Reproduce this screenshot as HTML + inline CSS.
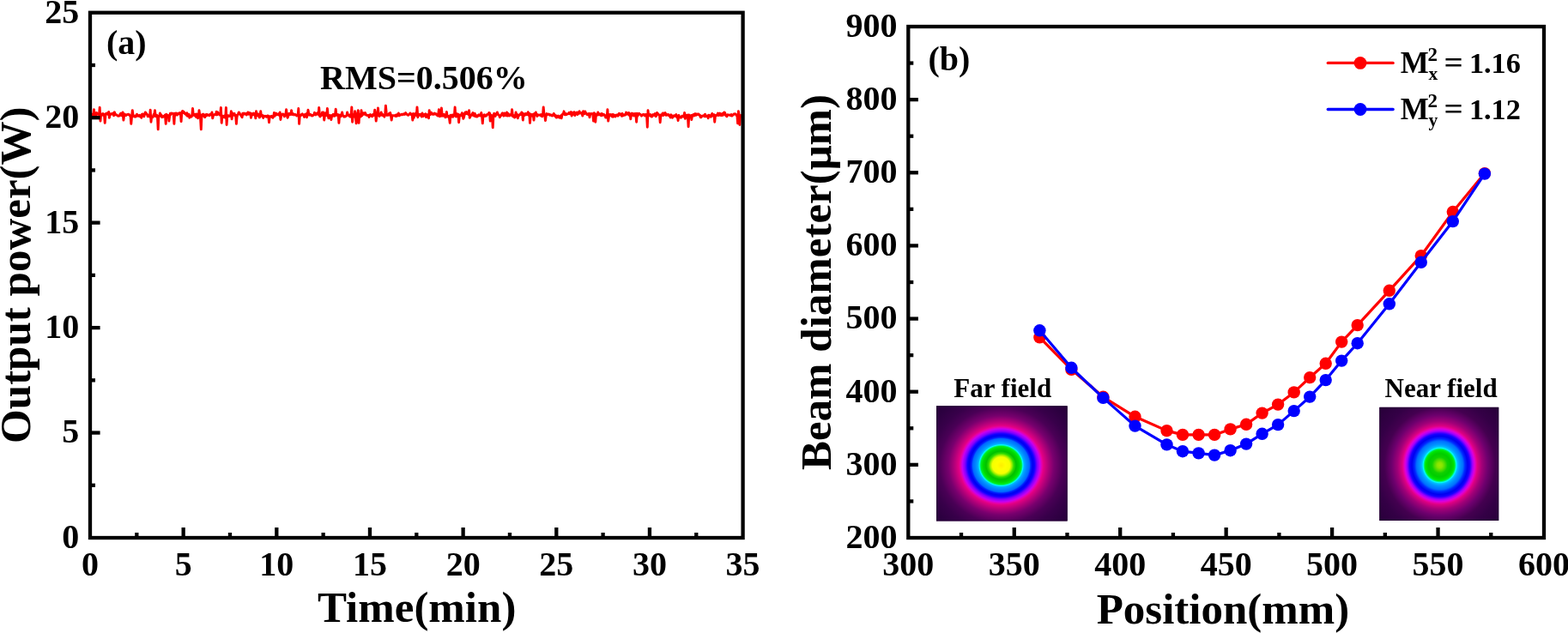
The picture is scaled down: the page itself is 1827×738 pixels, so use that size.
<!DOCTYPE html>
<html lang="en">
<head>
<meta charset="utf-8">
<title>Output power stability and beam quality</title>
<style>
html,body{margin:0;padding:0;background:#fff;}
body{width:1827px;height:738px;overflow:hidden;}
svg{display:block;}
text{font-family:'Liberation Serif',serif;font-weight:bold;fill:#000;}
.tk{font-size:40px;}
.ax{font-size:51px;}
.lb{font-size:40px;}
.lg{font-size:35px;}
.im{font-size:31px;}
.frame{fill:none;stroke:#000;stroke-width:4.3;}
.tick{stroke:#000;stroke-width:4.3;fill:none;}
</style>
</head>
<body>
<svg width="1827" height="738" viewBox="0 0 1827 738">
<defs>
<radialGradient id="gfar" cx="0.5" cy="0.5" r="0.5">
<stop offset="0.0000" stop-color="#ffee00"/>
<stop offset="0.0455" stop-color="#ffff00"/>
<stop offset="0.0936" stop-color="#f4ff00"/>
<stop offset="0.1136" stop-color="#a0f000"/>
<stop offset="0.1336" stop-color="#30dc00"/>
<stop offset="0.1591" stop-color="#00c000"/>
<stop offset="0.1909" stop-color="#00d800"/>
<stop offset="0.2145" stop-color="#00f020"/>
<stop offset="0.2236" stop-color="#00f0a0"/>
<stop offset="0.2309" stop-color="#00ffff"/>
<stop offset="0.2409" stop-color="#00b4ff"/>
<stop offset="0.2636" stop-color="#0090ff"/>
<stop offset="0.3000" stop-color="#0068ff"/>
<stop offset="0.3145" stop-color="#0020ff"/>
<stop offset="0.3345" stop-color="#0000f0"/>
<stop offset="0.3545" stop-color="#1000ff"/>
<stop offset="0.3836" stop-color="#8200ff"/>
<stop offset="0.4118" stop-color="#c800f0"/>
<stop offset="0.4318" stop-color="#e600aa"/>
<stop offset="0.4491" stop-color="#e10082"/>
<stop offset="0.5045" stop-color="#aa0078"/>
<stop offset="0.5591" stop-color="#78006e"/>
<stop offset="0.6545" stop-color="#4a0056"/>
<stop offset="0.7455" stop-color="#38004a"/>
<stop offset="0.8636" stop-color="#2c0040"/>
<stop offset="1.0000" stop-color="#260036"/>
</radialGradient>
<radialGradient id="gnear" cx="0.5" cy="0.5" r="0.5">
<stop offset="0.0000" stop-color="#98e800"/>
<stop offset="0.0273" stop-color="#88e400"/>
<stop offset="0.0545" stop-color="#50dc00"/>
<stop offset="0.0818" stop-color="#10d000"/>
<stop offset="0.1182" stop-color="#00cc00"/>
<stop offset="0.1455" stop-color="#00e000"/>
<stop offset="0.1591" stop-color="#00f020"/>
<stop offset="0.1682" stop-color="#00f0a0"/>
<stop offset="0.1764" stop-color="#00ffff"/>
<stop offset="0.1864" stop-color="#00c0ff"/>
<stop offset="0.2091" stop-color="#0098ff"/>
<stop offset="0.2455" stop-color="#0070ff"/>
<stop offset="0.2682" stop-color="#0028ff"/>
<stop offset="0.2955" stop-color="#0000f0"/>
<stop offset="0.3182" stop-color="#1800ff"/>
<stop offset="0.3473" stop-color="#a000ff"/>
<stop offset="0.3682" stop-color="#dc00dc"/>
<stop offset="0.3864" stop-color="#e600a0"/>
<stop offset="0.3991" stop-color="#dc0082"/>
<stop offset="0.4482" stop-color="#a00078"/>
<stop offset="0.5082" stop-color="#6e006e"/>
<stop offset="0.5873" stop-color="#440050"/>
<stop offset="0.6818" stop-color="#340046"/>
<stop offset="0.8182" stop-color="#2a003c"/>
<stop offset="1.0000" stop-color="#260036"/>
</radialGradient>
<clipPath id="cfar"><rect x="1091" y="473.3" width="152.7" height="134.2"/></clipPath>
<clipPath id="cnear"><rect x="1607.3" y="474.8" width="139" height="132.3"/></clipPath>
</defs>
<rect x="0" y="0" width="1827" height="738" fill="#fff"/>

<g id="panel-a">
<path d="M106.5,134.3 L107.2,133.4 L108.0,133.1 L108.7,134.3 L109.5,127.6 L110.2,134.6 L111.0,134.5 L111.7,136.2 L112.5,131.5 L113.2,132.4 L114.0,133.1 L114.7,132.8 L115.5,134.0 L116.2,125.2 L117.0,141.1 L117.7,132.7 L118.5,133.2 L119.2,133.9 L119.9,132.6 L120.7,134.5 L121.4,133.3 L122.2,143.3 L122.9,134.7 L123.7,132.3 L124.4,131.9 L125.2,133.0 L125.9,133.3 L126.7,130.4 L127.4,137.3 L128.2,132.6 L128.9,133.5 L129.7,132.7 L130.4,132.9 L131.2,132.1 L131.9,133.6 L132.6,134.7 L133.4,130.8 L134.1,132.8 L134.9,133.9 L135.6,133.8 L136.4,134.2 L137.1,135.1 L137.9,135.2 L138.6,135.1 L139.4,134.8 L140.1,132.8 L140.9,132.1 L141.6,134.7 L142.4,134.7 L143.1,130.9 L143.9,140.0 L144.6,134.9 L145.4,133.1 L146.1,134.0 L146.8,134.5 L147.6,133.9 L148.3,133.5 L149.1,133.3 L149.8,133.3 L150.6,133.6 L151.3,134.9 L152.1,135.6 L152.8,144.4 L153.6,135.3 L154.3,128.7 L155.1,134.8 L155.8,135.6 L156.6,136.1 L157.3,135.0 L158.1,136.1 L158.8,135.2 L159.5,133.2 L160.3,135.1 L161.0,135.2 L161.8,135.2 L162.5,134.2 L163.3,136.0 L164.0,135.1 L164.8,137.3 L165.5,133.1 L166.3,133.0 L167.0,134.9 L167.8,135.8 L168.5,133.2 L169.3,130.9 L170.0,131.5 L170.8,133.1 L171.5,133.3 L172.2,135.8 L173.0,134.7 L173.7,135.0 L174.5,136.1 L175.2,128.2 L176.0,142.2 L176.7,136.0 L177.5,136.7 L178.2,136.5 L179.0,133.5 L179.7,134.2 L180.5,128.7 L181.2,135.7 L182.0,134.6 L182.7,134.3 L183.5,137.0 L184.2,150.9 L184.9,135.1 L185.7,135.5 L186.4,132.0 L187.2,134.7 L187.9,133.9 L188.7,136.7 L189.4,135.6 L190.2,136.2 L190.9,135.2 L191.7,135.4 L192.4,134.0 L193.2,144.4 L193.9,133.1 L194.7,134.5 L195.4,135.0 L196.2,134.7 L196.9,141.1 L197.7,134.9 L198.4,132.2 L199.1,133.4 L199.9,132.0 L200.6,132.1 L201.4,132.3 L202.1,132.5 L202.9,144.4 L203.6,132.2 L204.4,134.3 L205.1,132.0 L205.9,133.9 L206.6,134.0 L207.4,132.3 L208.1,132.2 L208.9,132.8 L209.6,131.5 L210.4,132.3 L211.1,141.6 L211.8,131.5 L212.6,129.4 L213.3,131.6 L214.1,130.3 L214.8,131.2 L215.6,132.9 L216.3,133.0 L217.1,134.1 L217.8,131.7 L218.6,135.4 L219.3,133.5 L220.1,133.2 L220.8,137.2 L221.6,135.1 L222.3,135.1 L223.1,136.1 L223.8,134.6 L224.5,126.5 L225.3,134.4 L226.0,133.7 L226.8,134.6 L227.5,133.2 L228.3,136.3 L229.0,132.9 L229.8,135.9 L230.5,137.8 L231.3,136.2 L232.0,128.7 L232.8,134.0 L233.5,136.9 L234.3,150.9 L235.0,134.7 L235.8,133.3 L236.5,133.1 L237.2,133.2 L238.0,136.1 L238.7,136.6 L239.5,135.4 L240.2,133.4 L241.0,134.5 L241.7,133.6 L242.5,134.3 L243.2,134.4 L244.0,134.8 L244.7,133.2 L245.5,133.7 L246.2,133.9 L247.0,130.9 L247.7,137.8 L248.5,134.9 L249.2,133.9 L250.0,133.4 L250.7,133.4 L251.4,133.7 L252.2,130.1 L252.9,133.8 L253.7,131.0 L254.4,132.7 L255.2,132.8 L255.9,134.1 L256.7,134.0 L257.4,125.4 L258.2,143.3 L258.9,135.2 L259.7,135.3 L260.4,135.4 L261.2,136.8 L261.9,134.7 L262.7,137.3 L263.4,125.4 L264.1,145.5 L264.9,134.4 L265.6,135.4 L266.4,134.7 L267.1,135.5 L267.9,135.0 L268.6,135.3 L269.4,129.8 L270.1,138.9 L270.9,132.0 L271.6,134.1 L272.4,133.8 L273.1,132.4 L273.9,135.1 L274.6,134.2 L275.4,144.4 L276.1,135.9 L276.8,134.0 L277.6,132.6 L278.3,130.9 L279.1,131.9 L279.8,133.5 L280.6,134.3 L281.3,135.5 L282.1,136.7 L282.8,132.2 L283.6,133.3 L284.3,132.1 L285.1,133.1 L285.8,132.8 L286.6,132.4 L287.3,133.9 L288.1,132.9 L288.8,130.9 L289.5,133.2 L290.3,132.7 L291.0,131.5 L291.8,132.5 L292.5,137.3 L293.3,132.4 L294.0,133.2 L294.8,133.9 L295.5,132.1 L296.3,132.5 L297.0,132.7 L297.8,137.8 L298.5,129.8 L299.3,133.9 L300.0,134.8 L300.8,132.9 L301.5,134.9 L302.3,137.0 L303.0,136.1 L303.7,129.8 L304.5,135.0 L305.2,134.2 L306.0,134.6 L306.7,137.5 L307.5,135.2 L308.2,135.6 L309.0,135.3 L309.7,135.8 L310.5,136.3 L311.2,135.3 L312.0,134.9 L312.7,135.1 L313.5,142.7 L314.2,136.0 L315.0,135.7 L315.7,136.0 L316.4,135.3 L317.2,136.6 L317.9,137.3 L318.7,135.7 L319.4,131.5 L320.2,135.4 L320.9,133.2 L321.7,132.1 L322.4,133.7 L323.2,133.8 L323.9,133.0 L324.7,132.7 L325.4,134.3 L326.2,130.9 L326.9,139.5 L327.7,135.0 L328.4,133.8 L329.1,133.0 L329.9,133.0 L330.6,134.0 L331.4,135.8 L332.1,133.5 L332.9,133.0 L333.6,127.6 L334.4,134.9 L335.1,137.3 L335.9,135.0 L336.6,132.5 L337.4,132.5 L338.1,133.6 L338.9,133.4 L339.6,128.7 L340.4,133.5 L341.1,133.0 L341.8,132.8 L342.6,134.1 L343.3,133.6 L344.1,133.4 L344.8,133.9 L345.6,135.0 L346.3,134.3 L347.1,134.9 L347.8,126.5 L348.6,144.4 L349.3,134.5 L350.1,135.1 L350.8,133.8 L351.6,134.1 L352.3,132.8 L353.1,133.8 L353.8,134.7 L354.6,136.5 L355.3,133.4 L356.0,134.8 L356.8,132.7 L357.5,136.7 L358.3,133.2 L359.0,128.2 L359.8,133.1 L360.5,134.1 L361.3,133.5 L362.0,133.5 L362.8,134.9 L363.5,134.5 L364.3,134.9 L365.0,134.0 L365.8,134.0 L366.5,131.3 L367.3,133.5 L368.0,133.9 L368.7,132.5 L369.5,131.9 L370.2,133.1 L371.0,133.5 L371.7,125.4 L372.5,135.5 L373.2,135.9 L374.0,133.4 L374.7,134.5 L375.5,131.0 L376.2,134.1 L377.0,130.9 L377.7,140.0 L378.5,134.6 L379.2,133.8 L380.0,131.4 L380.7,134.6 L381.4,126.5 L382.2,134.8 L382.9,137.8 L383.7,134.9 L384.4,134.4 L385.2,135.0 L385.9,139.5 L386.7,134.5 L387.4,135.4 L388.2,133.3 L388.9,135.0 L389.7,135.4 L390.4,134.9 L391.2,127.1 L391.9,134.3 L392.7,133.2 L393.4,133.7 L394.1,133.6 L394.9,143.3 L395.6,134.4 L396.4,134.0 L397.1,135.8 L397.9,134.8 L398.6,130.9 L399.4,134.6 L400.1,135.1 L400.9,136.2 L401.6,135.4 L402.4,136.0 L403.1,135.3 L403.9,134.7 L404.6,130.9 L405.4,133.8 L406.1,134.3 L406.9,135.3 L407.6,134.1 L408.3,136.2 L409.1,134.9 L409.8,124.9 L410.6,142.2 L411.3,133.4 L412.1,135.5 L412.8,136.0 L413.6,129.8 L414.3,136.0 L415.1,143.8 L415.8,132.5 L416.6,133.7 L417.3,128.7 L418.1,143.3 L418.8,133.2 L419.6,134.6 L420.3,136.0 L421.0,128.7 L421.8,134.7 L422.5,132.6 L423.3,131.7 L424.0,133.3 L424.8,132.9 L425.5,131.5 L426.3,133.9 L427.0,134.4 L427.8,134.3 L428.5,134.5 L429.3,134.3 L430.0,136.5 L430.8,134.8 L431.5,133.6 L432.3,135.2 L433.0,135.0 L433.7,135.7 L434.5,133.6 L435.2,134.6 L436.0,133.8 L436.7,128.2 L437.5,133.1 L438.2,141.1 L439.0,134.7 L439.7,133.5 L440.5,126.0 L441.2,134.2 L442.0,135.6 L442.7,134.4 L443.5,133.8 L444.2,130.9 L445.0,134.4 L445.7,133.2 L446.4,134.9 L447.2,134.8 L447.9,136.2 L448.7,133.2 L449.4,123.2 L450.2,131.5 L450.9,134.4 L451.7,134.2 L452.4,134.3 L453.2,132.4 L453.9,133.9 L454.7,131.4 L455.4,134.3 L456.2,140.0 L456.9,134.7 L457.7,134.6 L458.4,134.6 L459.2,134.8 L459.9,134.6 L460.6,135.4 L461.4,133.9 L462.1,135.4 L462.9,133.8 L463.6,134.7 L464.4,132.0 L465.1,134.9 L465.9,134.2 L466.6,134.1 L467.4,133.3 L468.1,133.1 L468.9,133.8 L469.6,133.3 L470.4,132.7 L471.1,133.4 L471.9,133.0 L472.6,131.5 L473.3,133.1 L474.1,132.9 L474.8,134.0 L475.6,134.3 L476.3,133.7 L477.1,133.3 L477.8,131.9 L478.6,133.4 L479.3,133.0 L480.1,133.2 L480.8,140.0 L481.6,132.5 L482.3,137.2 L483.1,133.5 L483.8,133.4 L484.6,131.8 L485.3,134.7 L486.0,124.9 L486.8,136.7 L487.5,134.1 L488.3,133.4 L489.0,134.3 L489.8,133.2 L490.5,133.8 L491.3,136.1 L492.0,131.9 L492.8,135.6 L493.5,135.3 L494.3,133.5 L495.0,133.7 L495.8,132.7 L496.5,136.6 L497.3,133.7 L498.0,133.7 L498.7,134.9 L499.5,137.8 L500.2,128.7 L501.0,133.7 L501.7,133.5 L502.5,131.2 L503.2,132.1 L504.0,133.0 L504.7,133.4 L505.5,132.3 L506.2,132.0 L507.0,133.1 L507.7,132.5 L508.5,133.3 L509.2,134.2 L510.0,135.0 L510.7,133.2 L511.4,127.6 L512.2,135.7 L512.9,134.5 L513.7,135.3 L514.4,126.0 L515.2,135.0 L515.9,135.2 L516.7,134.3 L517.4,133.4 L518.2,134.3 L518.9,136.8 L519.7,135.5 L520.4,130.4 L521.2,136.0 L521.9,135.9 L522.7,135.6 L523.4,137.0 L524.2,143.3 L524.9,134.3 L525.6,135.4 L526.4,136.0 L527.1,133.9 L527.9,136.2 L528.6,134.7 L529.4,134.5 L530.1,124.9 L530.9,135.5 L531.6,136.0 L532.4,132.6 L533.1,133.4 L533.9,133.3 L534.6,142.7 L535.4,135.1 L536.1,134.0 L536.9,134.0 L537.6,134.8 L538.3,131.7 L539.1,133.2 L539.8,138.4 L540.6,136.4 L541.3,132.7 L542.1,130.9 L542.8,132.7 L543.6,130.5 L544.3,132.4 L545.1,131.4 L545.8,133.4 L546.6,128.7 L547.3,137.3 L548.1,135.6 L548.8,134.5 L549.6,134.2 L550.3,132.7 L551.0,131.5 L551.8,134.8 L552.5,135.0 L553.3,132.3 L554.0,135.7 L554.8,134.5 L555.5,136.1 L556.3,135.8 L557.0,134.5 L557.8,133.8 L558.5,134.1 L559.3,135.0 L560.0,134.0 L560.8,131.5 L561.5,134.8 L562.3,143.8 L563.0,134.7 L563.7,134.3 L564.5,133.8 L565.2,135.4 L566.0,135.0 L566.7,135.1 L567.5,133.4 L568.2,133.4 L569.0,133.4 L569.7,131.5 L570.5,131.6 L571.2,141.1 L572.0,133.9 L572.7,135.1 L573.5,135.0 L574.2,148.8 L575.0,134.1 L575.7,132.3 L576.5,134.8 L577.2,135.4 L577.9,132.7 L578.7,133.3 L579.4,130.9 L580.2,133.5 L580.9,133.7 L581.7,134.7 L582.4,136.7 L583.2,135.0 L583.9,134.8 L584.7,132.7 L585.4,131.8 L586.2,133.7 L586.9,135.1 L587.7,131.9 L588.4,134.4 L589.2,132.4 L589.9,134.8 L590.6,130.9 L591.4,135.1 L592.1,132.3 L592.9,134.7 L593.6,135.0 L594.4,133.8 L595.1,134.3 L595.9,134.2 L596.6,127.6 L597.4,135.6 L598.1,135.9 L598.9,134.8 L599.6,137.1 L600.4,136.2 L601.1,130.9 L601.9,135.6 L602.6,133.3 L603.3,137.8 L604.1,135.4 L604.8,134.6 L605.6,133.6 L606.3,132.7 L607.1,133.5 L607.8,130.9 L608.6,131.9 L609.3,140.0 L610.1,132.7 L610.8,134.5 L611.6,134.3 L612.3,132.4 L613.1,133.2 L613.8,133.7 L614.6,132.3 L615.3,130.7 L616.0,134.3 L616.8,132.3 L617.5,143.3 L618.3,133.1 L619.0,134.8 L619.8,133.6 L620.5,135.2 L621.3,133.3 L622.0,140.0 L622.8,132.4 L623.5,133.8 L624.3,130.9 L625.0,133.4 L625.8,135.4 L626.5,133.7 L627.3,134.4 L628.0,134.1 L628.8,134.1 L629.5,133.8 L630.2,135.0 L631.0,133.6 L631.7,135.8 L632.5,134.3 L633.2,124.9 L634.0,133.3 L634.7,134.2 L635.5,140.5 L636.2,134.8 L637.0,132.5 L637.7,133.8 L638.5,133.3 L639.2,133.0 L640.0,133.4 L640.7,134.2 L641.5,133.8 L642.2,134.3 L642.9,134.8 L643.7,135.0 L644.4,134.0 L645.2,132.4 L645.9,133.3 L646.7,135.5 L647.4,134.5 L648.2,137.1 L648.9,135.4 L649.7,136.6 L650.4,135.1 L651.2,136.2 L651.9,137.3 L652.7,135.8 L653.4,134.9 L654.2,137.8 L654.9,134.2 L655.6,132.8 L656.4,132.9 L657.1,129.8 L657.9,133.7 L658.6,133.9 L659.4,132.6 L660.1,133.5 L660.9,133.0 L661.6,132.9 L662.4,132.5 L663.1,131.3 L663.9,132.9 L664.6,132.7 L665.4,130.6 L666.1,135.1 L666.9,132.3 L667.6,131.2 L668.3,133.2 L669.1,130.7 L669.8,134.6 L670.6,131.8 L671.3,132.1 L672.1,131.0 L672.8,133.6 L673.6,132.7 L674.3,131.1 L675.1,129.8 L675.8,132.1 L676.6,131.3 L677.3,131.6 L678.1,132.2 L678.8,135.1 L679.6,129.7 L680.3,132.0 L681.1,132.6 L681.8,129.9 L682.5,132.0 L683.3,132.0 L684.0,133.6 L684.8,133.7 L685.5,133.6 L686.3,132.4 L687.0,136.7 L687.8,132.9 L688.5,132.4 L689.3,132.9 L690.0,132.4 L690.8,133.0 L691.5,141.1 L692.3,131.6 L693.0,132.7 L693.8,142.2 L694.5,133.3 L695.2,134.4 L696.0,134.2 L696.7,131.0 L697.5,133.8 L698.2,133.8 L699.0,132.8 L699.7,133.9 L700.5,134.8 L701.2,132.5 L702.0,134.1 L702.7,134.3 L703.5,133.3 L704.2,134.0 L705.0,134.6 L705.7,137.1 L706.5,137.0 L707.2,135.9 L707.9,127.6 L708.7,141.1 L709.4,136.3 L710.2,133.6 L710.9,134.8 L711.7,133.5 L712.4,134.0 L713.2,135.9 L713.9,133.4 L714.7,136.2 L715.4,133.9 L716.2,135.4 L716.9,136.0 L717.7,134.2 L718.4,134.7 L719.2,133.7 L719.9,135.1 L720.6,134.4 L721.4,132.3 L722.1,133.7 L722.9,132.9 L723.6,132.9 L724.4,135.3 L725.1,132.4 L725.9,134.9 L726.6,134.4 L727.4,133.7 L728.1,134.2 L728.9,133.9 L729.6,131.1 L730.4,131.9 L731.1,133.1 L731.9,133.3 L732.6,131.4 L733.4,134.6 L734.1,132.7 L734.8,138.9 L735.6,133.1 L736.3,132.1 L737.1,134.2 L737.8,132.6 L738.6,135.0 L739.3,133.5 L740.1,132.4 L740.8,133.2 L741.6,142.2 L742.3,132.3 L743.1,135.0 L743.8,133.5 L744.6,132.3 L745.3,133.0 L746.1,133.4 L746.8,134.0 L747.5,135.1 L748.3,134.3 L749.0,133.7 L749.8,133.4 L750.5,133.7 L751.3,135.1 L752.0,133.7 L752.8,133.4 L753.5,133.8 L754.3,148.2 L755.0,128.7 L755.8,134.5 L756.5,133.8 L757.3,134.9 L758.0,133.5 L758.8,135.8 L759.5,136.0 L760.2,135.5 L761.0,133.6 L761.7,133.8 L762.5,134.5 L763.2,132.6 L764.0,135.7 L764.7,135.2 L765.5,131.4 L766.2,132.0 L767.0,133.2 L767.7,133.8 L768.5,134.7 L769.2,142.7 L770.0,133.9 L770.7,134.8 L771.5,133.6 L772.2,131.9 L772.9,134.5 L773.7,132.1 L774.4,133.4 L775.2,131.5 L775.9,134.3 L776.7,134.3 L777.4,133.6 L778.2,134.1 L778.9,133.5 L779.7,135.1 L780.4,135.1 L781.2,136.9 L781.9,133.8 L782.7,136.2 L783.4,137.3 L784.2,135.0 L784.9,135.8 L785.7,134.6 L786.4,134.8 L787.1,135.4 L787.9,133.6 L788.6,136.7 L789.4,136.0 L790.1,140.5 L790.9,134.4 L791.6,136.2 L792.4,136.6 L793.1,137.3 L793.9,136.9 L794.6,135.2 L795.4,135.3 L796.1,135.7 L796.9,136.2 L797.6,131.5 L798.4,138.4 L799.1,135.0 L799.8,134.2 L800.6,134.9 L801.3,134.1 L802.1,147.7 L802.8,134.0 L803.6,136.0 L804.3,134.8 L805.1,134.6 L805.8,139.5 L806.6,134.2 L807.3,135.1 L808.1,133.6 L808.8,134.9 L809.6,132.7 L810.3,132.8 L811.1,134.3 L811.8,132.9 L812.5,133.6 L813.3,133.2 L814.0,132.9 L814.8,134.4 L815.5,134.2 L816.3,136.7 L817.0,136.7 L817.8,135.2 L818.5,135.2 L819.3,134.8 L820.0,134.5 L820.8,135.7 L821.5,133.2 L822.3,135.8 L823.0,134.9 L823.8,135.4 L824.5,134.8 L825.2,137.8 L826.0,134.2 L826.7,134.4 L827.5,135.0 L828.2,136.2 L829.0,134.7 L829.7,132.5 L830.5,135.1 L831.2,133.8 L832.0,133.8 L832.7,142.2 L833.5,134.9 L834.2,134.2 L835.0,134.6 L835.7,134.2 L836.5,132.1 L837.2,134.6 L838.0,133.0 L838.7,132.1 L839.4,134.4 L840.2,133.1 L840.9,134.6 L841.7,132.5 L842.4,134.3 L843.2,131.5 L843.9,130.9 L844.7,131.6 L845.4,134.3 L846.2,135.1 L846.9,135.8 L847.7,133.7 L848.4,134.1 L849.2,134.1 L849.9,134.0 L850.7,134.4 L851.4,134.7 L852.1,133.5 L852.9,135.1 L853.6,134.3 L854.4,133.9 L855.1,133.0 L855.9,132.8 L856.6,132.8 L857.4,133.2 L858.1,134.5 L858.9,134.6 L859.6,143.8 L860.4,129.8 L861.1,133.8 L861.9,145.5 L862.6,134.9 L863.4,134.5 L864.1,135.0" fill="none" stroke="#ff0000" stroke-width="2.9" stroke-linejoin="round" stroke-linecap="round"/>
<text class="tk" x="105.00" y="670.8" text-anchor="middle">0</text>
<line class="tick" x1="213.66" y1="627.0" x2="213.66" y2="615.0"/>
<text class="tk" x="213.66" y="670.8" text-anchor="middle">5</text>
<line class="tick" x1="322.31" y1="627.0" x2="322.31" y2="615.0"/>
<text class="tk" x="322.31" y="670.8" text-anchor="middle">10</text>
<line class="tick" x1="430.97" y1="627.0" x2="430.97" y2="615.0"/>
<text class="tk" x="430.97" y="670.8" text-anchor="middle">15</text>
<line class="tick" x1="539.63" y1="627.0" x2="539.63" y2="615.0"/>
<text class="tk" x="539.63" y="670.8" text-anchor="middle">20</text>
<line class="tick" x1="648.29" y1="627.0" x2="648.29" y2="615.0"/>
<text class="tk" x="648.29" y="670.8" text-anchor="middle">25</text>
<line class="tick" x1="756.94" y1="627.0" x2="756.94" y2="615.0"/>
<text class="tk" x="756.94" y="670.8" text-anchor="middle">30</text>
<text class="tk" x="865.60" y="670.8" text-anchor="middle">35</text>
<line class="tick" x1="159.33" y1="627.0" x2="159.33" y2="621.0"/>
<line class="tick" x1="267.99" y1="627.0" x2="267.99" y2="621.0"/>
<line class="tick" x1="376.64" y1="627.0" x2="376.64" y2="621.0"/>
<line class="tick" x1="485.30" y1="627.0" x2="485.30" y2="621.0"/>
<line class="tick" x1="593.96" y1="627.0" x2="593.96" y2="621.0"/>
<line class="tick" x1="702.61" y1="627.0" x2="702.61" y2="621.0"/>
<line class="tick" x1="811.27" y1="627.0" x2="811.27" y2="621.0"/>
<text class="tk" x="92.3" y="638.90" text-anchor="end">0</text>
<line class="tick" x1="105.0" y1="504.55" x2="116.6" y2="504.55"/>
<text class="tk" x="92.3" y="516.45" text-anchor="end">5</text>
<line class="tick" x1="105.0" y1="382.10" x2="116.6" y2="382.10"/>
<text class="tk" x="92.3" y="394.00" text-anchor="end">10</text>
<line class="tick" x1="105.0" y1="259.65" x2="116.6" y2="259.65"/>
<text class="tk" x="92.3" y="271.55" text-anchor="end">15</text>
<line class="tick" x1="105.0" y1="137.20" x2="116.6" y2="137.20"/>
<text class="tk" x="92.3" y="149.10" text-anchor="end">20</text>
<text class="tk" x="92.3" y="26.65" text-anchor="end">25</text>
<line class="tick" x1="105.0" y1="565.77" x2="111.0" y2="565.77"/>
<line class="tick" x1="105.0" y1="443.33" x2="111.0" y2="443.33"/>
<line class="tick" x1="105.0" y1="320.88" x2="111.0" y2="320.88"/>
<line class="tick" x1="105.0" y1="198.43" x2="111.0" y2="198.43"/>
<line class="tick" x1="105.0" y1="75.98" x2="111.0" y2="75.98"/>
<rect class="frame" x="105.0" y="14.75" width="760.60" height="612.25"/>
<text class="lb" x="124" y="62.6">(a)</text>
<text class="lb" x="373" y="103.9">RMS=0.506%</text>
<text class="ax" x="485.7" y="725.2" text-anchor="middle">Time(min)</text>
<text class="ax" transform="translate(35.2,320.7) rotate(-90)" text-anchor="middle">Output power(W)</text>
</g>
<g id="panel-b">
<g clip-path="url(#cfar)"><rect x="1091" y="473.3" width="152.7" height="134.2" fill="#260036"/><ellipse cx="1166.5" cy="542.5" rx="110.0" ry="103.4" fill="url(#gfar)"/><rect x="1091.5" y="473.8" width="151.7" height="133.2" fill="none" stroke="#1c0028" stroke-opacity="0.55" stroke-width="1"/></g>
<g clip-path="url(#cnear)"><rect x="1607.3" y="474.8" width="139" height="132.3" fill="#280038"/><ellipse cx="1677.6" cy="542.4" rx="110.0" ry="114.9" fill="url(#gnear)"/><rect x="1607.8" y="475.3" width="138" height="131.3" fill="none" stroke="#1c0028" stroke-opacity="0.55" stroke-width="1"/></g>
<text class="im" x="1168.2" y="463" text-anchor="middle">Far field</text>
<text class="im" x="1679.1" y="463" text-anchor="middle">Near field</text>
<path d="M1211.4,393.4 L1248.4,430.8 L1285.4,462.8 L1322.5,485.8 L1359.5,502.1 L1378.0,506.9 L1396.6,506.9 L1415.1,506.9 L1433.6,500.4 L1452.1,494.8 L1470.6,481.6 L1489.1,471.6 L1507.7,457.4 L1526.2,440.1 L1544.7,423.8 L1563.2,398.6 L1581.7,379.1 L1618.8,338.8 L1655.8,298.2 L1692.8,247.0 L1729.9,202.1" fill="none" stroke="#ff0000" stroke-width="3.2" stroke-linejoin="round"/>
<circle cx="1211.4" cy="393.4" r="7.2" fill="#ff0000"/>
<circle cx="1248.4" cy="430.8" r="7.2" fill="#ff0000"/>
<circle cx="1285.4" cy="462.8" r="7.2" fill="#ff0000"/>
<circle cx="1322.5" cy="485.8" r="7.2" fill="#ff0000"/>
<circle cx="1359.5" cy="502.1" r="7.2" fill="#ff0000"/>
<circle cx="1378.0" cy="506.9" r="7.2" fill="#ff0000"/>
<circle cx="1396.6" cy="506.9" r="7.2" fill="#ff0000"/>
<circle cx="1415.1" cy="506.9" r="7.2" fill="#ff0000"/>
<circle cx="1433.6" cy="500.4" r="7.2" fill="#ff0000"/>
<circle cx="1452.1" cy="494.8" r="7.2" fill="#ff0000"/>
<circle cx="1470.6" cy="481.6" r="7.2" fill="#ff0000"/>
<circle cx="1489.1" cy="471.6" r="7.2" fill="#ff0000"/>
<circle cx="1507.7" cy="457.4" r="7.2" fill="#ff0000"/>
<circle cx="1526.2" cy="440.1" r="7.2" fill="#ff0000"/>
<circle cx="1544.7" cy="423.8" r="7.2" fill="#ff0000"/>
<circle cx="1563.2" cy="398.6" r="7.2" fill="#ff0000"/>
<circle cx="1581.7" cy="379.1" r="7.2" fill="#ff0000"/>
<circle cx="1618.8" cy="338.8" r="7.2" fill="#ff0000"/>
<circle cx="1655.8" cy="298.2" r="7.2" fill="#ff0000"/>
<circle cx="1692.8" cy="247.0" r="7.2" fill="#ff0000"/>
<circle cx="1729.9" cy="202.1" r="7.2" fill="#ff0000"/>
<path d="M1211.4,385.3 L1248.4,428.8 L1285.4,463.9 L1322.5,496.6 L1359.5,518.4 L1378.0,526.2 L1396.6,528.4 L1415.1,530.6 L1433.6,525.2 L1452.1,517.6 L1470.6,505.8 L1489.1,495.1 L1507.7,479.1 L1526.2,462.6 L1544.7,443.1 L1563.2,420.6 L1581.7,400.2 L1618.8,354.3 L1655.8,305.8 L1692.8,258.1 L1729.9,202.6" fill="none" stroke="#0000ff" stroke-width="3.2" stroke-linejoin="round"/>
<circle cx="1211.4" cy="385.3" r="7.2" fill="#0000ff"/>
<circle cx="1248.4" cy="428.8" r="7.2" fill="#0000ff"/>
<circle cx="1285.4" cy="463.9" r="7.2" fill="#0000ff"/>
<circle cx="1322.5" cy="496.6" r="7.2" fill="#0000ff"/>
<circle cx="1359.5" cy="518.4" r="7.2" fill="#0000ff"/>
<circle cx="1378.0" cy="526.2" r="7.2" fill="#0000ff"/>
<circle cx="1396.6" cy="528.4" r="7.2" fill="#0000ff"/>
<circle cx="1415.1" cy="530.6" r="7.2" fill="#0000ff"/>
<circle cx="1433.6" cy="525.2" r="7.2" fill="#0000ff"/>
<circle cx="1452.1" cy="517.6" r="7.2" fill="#0000ff"/>
<circle cx="1470.6" cy="505.8" r="7.2" fill="#0000ff"/>
<circle cx="1489.1" cy="495.1" r="7.2" fill="#0000ff"/>
<circle cx="1507.7" cy="479.1" r="7.2" fill="#0000ff"/>
<circle cx="1526.2" cy="462.6" r="7.2" fill="#0000ff"/>
<circle cx="1544.7" cy="443.1" r="7.2" fill="#0000ff"/>
<circle cx="1563.2" cy="420.6" r="7.2" fill="#0000ff"/>
<circle cx="1581.7" cy="400.2" r="7.2" fill="#0000ff"/>
<circle cx="1618.8" cy="354.3" r="7.2" fill="#0000ff"/>
<circle cx="1655.8" cy="305.8" r="7.2" fill="#0000ff"/>
<circle cx="1692.8" cy="258.1" r="7.2" fill="#0000ff"/>
<circle cx="1729.9" cy="202.6" r="7.2" fill="#0000ff"/>
<text class="tk" x="1058.30" y="670.8" text-anchor="middle">300</text>
<line class="tick" x1="1181.75" y1="627.0" x2="1181.75" y2="615.0"/>
<text class="tk" x="1181.75" y="670.8" text-anchor="middle">350</text>
<line class="tick" x1="1305.20" y1="627.0" x2="1305.20" y2="615.0"/>
<text class="tk" x="1305.20" y="670.8" text-anchor="middle">400</text>
<line class="tick" x1="1428.65" y1="627.0" x2="1428.65" y2="615.0"/>
<text class="tk" x="1428.65" y="670.8" text-anchor="middle">450</text>
<line class="tick" x1="1552.10" y1="627.0" x2="1552.10" y2="615.0"/>
<text class="tk" x="1552.10" y="670.8" text-anchor="middle">500</text>
<line class="tick" x1="1675.55" y1="627.0" x2="1675.55" y2="615.0"/>
<text class="tk" x="1675.55" y="670.8" text-anchor="middle">550</text>
<text class="tk" x="1799.00" y="670.8" text-anchor="middle">600</text>
<line class="tick" x1="1120.02" y1="627.0" x2="1120.02" y2="621.0"/>
<line class="tick" x1="1243.47" y1="627.0" x2="1243.47" y2="621.0"/>
<line class="tick" x1="1366.92" y1="627.0" x2="1366.92" y2="621.0"/>
<line class="tick" x1="1490.38" y1="627.0" x2="1490.38" y2="621.0"/>
<line class="tick" x1="1613.83" y1="627.0" x2="1613.83" y2="621.0"/>
<line class="tick" x1="1737.28" y1="627.0" x2="1737.28" y2="621.0"/>
<text class="tk" x="1045.6" y="638.90" text-anchor="end">200</text>
<line class="tick" x1="1058.3" y1="541.86" x2="1069.8999999999999" y2="541.86"/>
<text class="tk" x="1045.6" y="553.76" text-anchor="end">300</text>
<line class="tick" x1="1058.3" y1="456.71" x2="1069.8999999999999" y2="456.71"/>
<text class="tk" x="1045.6" y="468.61" text-anchor="end">400</text>
<line class="tick" x1="1058.3" y1="371.57" x2="1069.8999999999999" y2="371.57"/>
<text class="tk" x="1045.6" y="383.47" text-anchor="end">500</text>
<line class="tick" x1="1058.3" y1="286.43" x2="1069.8999999999999" y2="286.43"/>
<text class="tk" x="1045.6" y="298.33" text-anchor="end">600</text>
<line class="tick" x1="1058.3" y1="201.29" x2="1069.8999999999999" y2="201.29"/>
<text class="tk" x="1045.6" y="213.19" text-anchor="end">700</text>
<line class="tick" x1="1058.3" y1="116.14" x2="1069.8999999999999" y2="116.14"/>
<text class="tk" x="1045.6" y="128.04" text-anchor="end">800</text>
<text class="tk" x="1045.6" y="42.90" text-anchor="end">900</text>
<line class="tick" x1="1058.3" y1="584.43" x2="1064.3" y2="584.43"/>
<line class="tick" x1="1058.3" y1="499.29" x2="1064.3" y2="499.29"/>
<line class="tick" x1="1058.3" y1="414.14" x2="1064.3" y2="414.14"/>
<line class="tick" x1="1058.3" y1="329.00" x2="1064.3" y2="329.00"/>
<line class="tick" x1="1058.3" y1="243.86" x2="1064.3" y2="243.86"/>
<line class="tick" x1="1058.3" y1="158.71" x2="1064.3" y2="158.71"/>
<line class="tick" x1="1058.3" y1="73.57" x2="1064.3" y2="73.57"/>
<rect class="frame" x="1058.3" y="31.0" width="740.70" height="596.00"/>
<text class="lb" x="1081.4" y="81.7">(b)</text>
<text class="ax" x="1425" y="727.3" text-anchor="middle">Position(mm)</text>
<text class="ax" transform="translate(968.2,329) rotate(-90)" text-anchor="middle">Beam diameter(μm)</text>
<line x1="1547.3" y1="73.4" x2="1623.1" y2="73.4" stroke="#ff0000" stroke-width="3.4" stroke-linecap="round"/>
<circle cx="1585" cy="73.4" r="7.4" fill="#ff0000"/>
<text class="lg" x="1631.8" y="84.9">M</text>
<text x="1663.6" y="70.8" font-size="23">2</text>
<text x="1664.4" y="93.4" font-size="21.5">x</text>
<text class="lg" x="1682.6" y="84.9" textLength="22.3" lengthAdjust="spacingAndGlyphs">=</text>
<text x="1711.9" y="84.9" font-size="34.3">1.16</text>
<line x1="1547.3" y1="127.5" x2="1623.1" y2="127.5" stroke="#0000ff" stroke-width="3.4" stroke-linecap="round"/>
<circle cx="1585" cy="127.5" r="7.4" fill="#0000ff"/>
<text class="lg" x="1631.8" y="138.6">M</text>
<text x="1663.6" y="124.5" font-size="23">2</text>
<text x="1664.4" y="147.1" font-size="21.5">y</text>
<text class="lg" x="1682.6" y="138.6" textLength="22.3" lengthAdjust="spacingAndGlyphs">=</text>
<text x="1711.9" y="138.6" font-size="34.3">1.12</text>
</g>
</svg>
</body>
</html>
